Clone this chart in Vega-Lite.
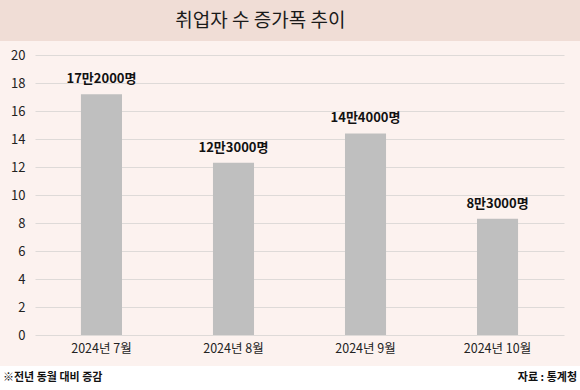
{
  "$schema": "https://vega.github.io/schema/vega-lite/v6.json",
  "background": "#fcf2ef",
  "padding": 0,
  "bounds": "full",
  "spacing": 8,
  "config": {
    "view": {"stroke": null},
    "font": "Noto Sans CJK KR",
    "text": {"font": "Noto Sans CJK KR"}
  },
  "vconcat": [
    {
      "width": 580,
      "height": 41,
      "view": {"fill": "#f0ddd6", "stroke": null},
      "data": {"values": [{"title": "취업자 수 증가폭 추이", "px": 0.449, "py": 0.5}]},
      "mark": {"type": "text", "fontSize": 19, "color": "#1a1a1a", "baseline": "middle", "align": "center"},
      "encoding": {
        "text": {"field": "title"},
        "x": {"field": "px", "type": "quantitative", "scale": {"domain": [0, 1]}, "axis": null},
        "y": {"field": "py", "type": "quantitative", "scale": {"domain": [0, 1]}, "axis": null}
      }
    },
    {
      "bounds": "full",
      "spacing": 11,
      "vconcat": [
        {
          "width": 564,
          "height": 280,
          "data": {
            "values": [
              {"month": "2024년 7월", "value": 17.2, "label": "17만2000명"},
              {"month": "2024년 8월", "value": 12.3, "label": "12만3000명"},
              {"month": "2024년 9월", "value": 14.4, "label": "14만4000명"},
              {"month": "2024년 10월", "value": 8.3, "label": "8만3000명"}
            ]
          },
          "encoding": {
            "x": {
              "field": "month",
              "type": "nominal",
              "sort": null,
              "scale": {"range": [35, 564], "paddingInner": 0.689, "paddingOuter": 0.348},
              "axis": {
                "title": null,
                "labelAngle": 0,
                "ticks": false,
                "domain": false,
                "grid": false,
                "labelFontSize": 12.5,
                "labelColor": "#222222",
                "labelPadding": 7
              }
            },
            "y": {
              "field": "value",
              "type": "quantitative",
              "scale": {"domain": [0, 20], "nice": false},
              "axis": {
                "title": null,
                "offset": -35,
                "values": [0, 2, 4, 6, 8, 10, 12, 14, 16, 18, 20],
                "ticks": false,
                "domain": false,
                "gridColor": "#dedad8",
                "gridWidth": 1,
                "labelFontSize": 13,
                "labelColor": "#222222",
                "labelPadding": 10
              }
            }
          },
          "layer": [
            {"mark": {"type": "bar", "color": "#bfbfbf"}},
            {
              "mark": {"type": "text", "fontSize": 13, "fontWeight": "bold", "color": "#111111", "baseline": "bottom", "dy": -8},
              "encoding": {"text": {"field": "label"}}
            }
          ]
        },
        {
          "width": 580,
          "height": 23,
          "view": {"fill": "#ffffff", "stroke": null},
          "data": {
            "values": [
              {"side": 0, "note": "※전년 동월 대비 증감", "py": 0.5},
              {"side": 1, "note": "자료 : 통계청", "py": 0.5}
            ]
          },
          "encoding": {
            "x": {"field": "side", "type": "quantitative", "scale": {"domain": [0, 1]}, "axis": null},
            "y": {"field": "py", "type": "quantitative", "scale": {"domain": [0, 1]}, "axis": null},
            "text": {"field": "note"}
          },
          "layer": [
            {
              "transform": [{"filter": "datum.side == 0"}],
              "mark": {"type": "text", "fontSize": 11, "fontWeight": "bold", "color": "#111111", "align": "left", "baseline": "middle", "dx": 3}
            },
            {
              "transform": [{"filter": "datum.side == 1"}],
              "mark": {"type": "text", "fontSize": 11, "fontWeight": "bold", "color": "#111111", "align": "right", "baseline": "middle", "dx": -3}
            }
          ]
        }
      ]
    }
  ]
}
